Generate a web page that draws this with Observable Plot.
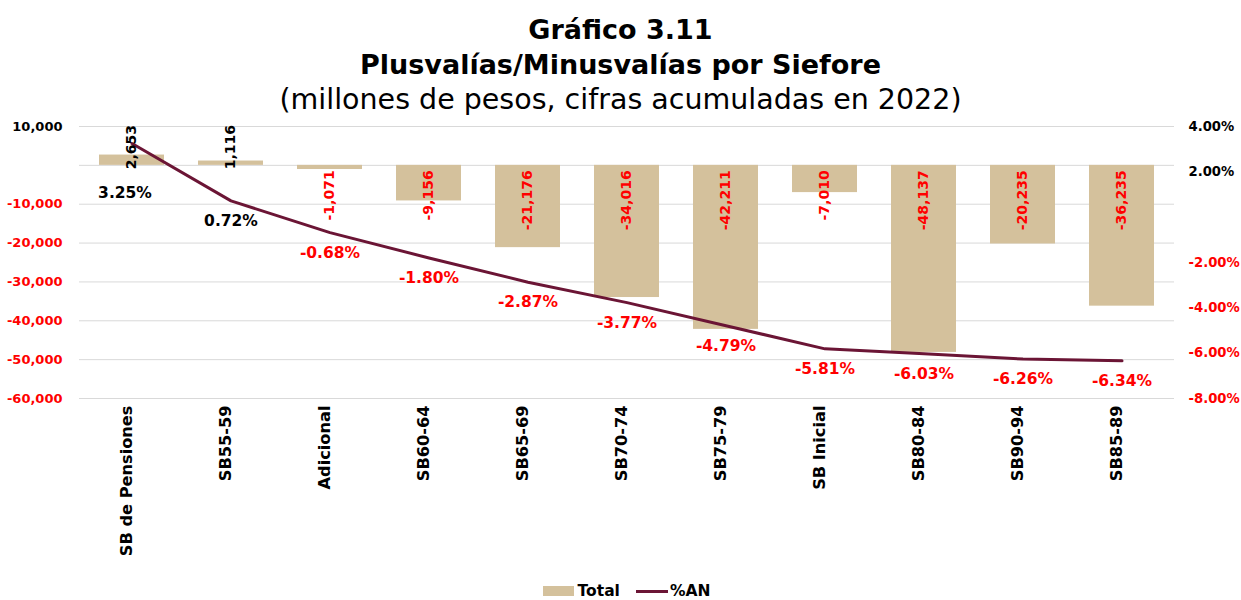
<!DOCTYPE html>
<html>
<head>
<meta charset="utf-8">
<script src="https://cdn.jsdelivr.net/npm/d3@7"></script>
<script src="https://cdn.jsdelivr.net/npm/@observablehq/plot@0.6"></script>
<style>
  body { margin: 0; background: #fff; font-family: "DejaVu Sans", sans-serif; }
  #wrap { position: relative; width: 1241px; height: 600px; overflow: hidden; }
  #title { position: absolute; left: 0; top: 12px; width: 1241px; text-align: center; color: #000; }
  #title div { line-height: 35px; font-size: 27px; }
  #title .b { font-weight: 700; }
  #title .r { font-size: 28.5px; }
  #chart { position: absolute; left: 0; top: 110px; }
  #legend { position: absolute; left: 0; top: 581px; height: 20px; line-height: 20px; width: 1241px; display: flex; justify-content: center; align-items: center; font-weight: 700; font-size: 15.5px; padding-left: 12px; box-sizing: border-box; }
  .sw { display: inline-block; }
</style>
</head>
<body>
<div id="wrap">
  <div id="title">
    <div class="b">Gráfico 3.11</div>
    <div class="b">Plusvalías/Minusvalías por Siefore</div>
    <div class="r">(millones de pesos, cifras acumuladas en 2022)</div>
  </div>
  <div id="chart"></div>
  <div id="legend">
    <span class="sw" style="width:31px;height:10px;background:#D4C19C;margin-right:4px"></span><span>Total</span>
    <span class="sw" style="width:32px;height:3px;background:#6B1535;margin-left:16px;margin-right:2px"></span><span>%AN</span>
  </div>
</div>
<script>
const categories = ["SB de Pensiones","SB55-59","Adicional","SB60-64","SB65-69","SB70-74","SB75-79","SB Inicial","SB80-84","SB90-94","SB85-89"];
const totals = [2653, 1116, -1071, -9156, -21176, -34016, -42211, -7010, -48137, -20235, -36235];
const pctAN = [3.25, 0.72, -0.68, -1.80, -2.87, -3.77, -4.79, -5.81, -6.03, -6.26, -6.34];
const leftTicks = [10000, 0, -10000, -20000, -30000, -40000, -50000, -60000];
const rightTicks = [4, 2, 0, -2, -4, -6, -8];

const leftDomain = [-60000, 10000];
const rightDomain = [-8, 4];
const toLeft = p => leftDomain[0] + (p - rightDomain[0]) * (leftDomain[1] - leftDomain[0]) / (rightDomain[1] - rightDomain[0]);

const data = categories.map((c, i) => ({cat: c, v: totals[i], p: pctAN[i]}));
const RED = "#FF0000";
const fmtNum = v => v.toLocaleString("en-US");
const fmtPct = v => v.toFixed(2) + "%";
const FONT = "'DejaVu Sans', sans-serif";

// the first % label collides with its bar label, so it sits lower (as in the original)
const pctLabelsNear = data.filter((d, i) => i > 0);
const pctLabelsFar = data.filter((d, i) => i === 0);

const chart = Plot.plot({
  width: 1241,
  height: 458,
  marginTop: 16,
  marginBottom: 170,
  marginLeft: 79,
  marginRight: 67,
  style: {fontFamily: FONT, overflow: "visible", background: "transparent"},
  x: {domain: categories, paddingInner: 0.34, paddingOuter: 0.17, axis: null},
  y: {domain: leftDomain, axis: null},
  marks: [
    Plot.ruleY(leftTicks, {stroke: "#D9D9D9", strokeWidth: 1}),
    Plot.barY(data, {x: "cat", y: "v", fill: "#D4C19C"}),
    Plot.line(data, {x: "cat", y: d => toLeft(d.p), stroke: "#6B1535", strokeWidth: 3, curve: "linear"}),
    // bar labels
    Plot.text(data.filter(d => d.v > 0), {x: "cat", y: 0, text: d => fmtNum(d.v), rotate: -90, textAnchor: "start", dy: 4, fill: "#000", fontWeight: 700, fontSize: 14}),
    Plot.text(data.filter(d => d.v < 0), {x: "cat", y: 0, text: d => fmtNum(d.v), rotate: -90, textAnchor: "end", dy: 5, fill: RED, fontWeight: 700, fontSize: 14}),
    // pct labels
    Plot.text(pctLabelsNear, {x: "cat", y: d => toLeft(d.p), text: d => fmtPct(d.p), dy: 20, fill: d => d.p < 0 ? RED : "#000", fontWeight: 700, fontSize: 15.5}),
    Plot.text(pctLabelsFar, {x: "cat", y: d => toLeft(d.p), text: d => fmtPct(d.p), dy: 50, dx: -7, fill: d => d.p < 0 ? RED : "#000", fontWeight: 700, fontSize: 15.5}),
    // left axis labels
    Plot.text(leftTicks, {y: d => d, frameAnchor: "left", textAnchor: "end", dx: -17, text: d => d === 0 ? "" : fmtNum(d), fill: d => d < 0 ? RED : "#000", fontWeight: 700, fontSize: 13}),
    // right axis labels
    Plot.text(rightTicks, {y: d => toLeft(d), frameAnchor: "right", textAnchor: "start", dx: 14, text: d => d === 0 ? "" : fmtPct(d), fill: d => d < 0 ? RED : "#000", fontWeight: 700, fontSize: 13.2}),
    // x labels
    Plot.text(categories, {x: d => d, frameAnchor: "bottom", rotate: -90, textAnchor: "end", dy: 7, text: d => d, fill: "#000", fontWeight: 700, fontSize: 16.2})
  ]
});
document.getElementById("chart").appendChild(chart);
</script>
</body>
</html>
